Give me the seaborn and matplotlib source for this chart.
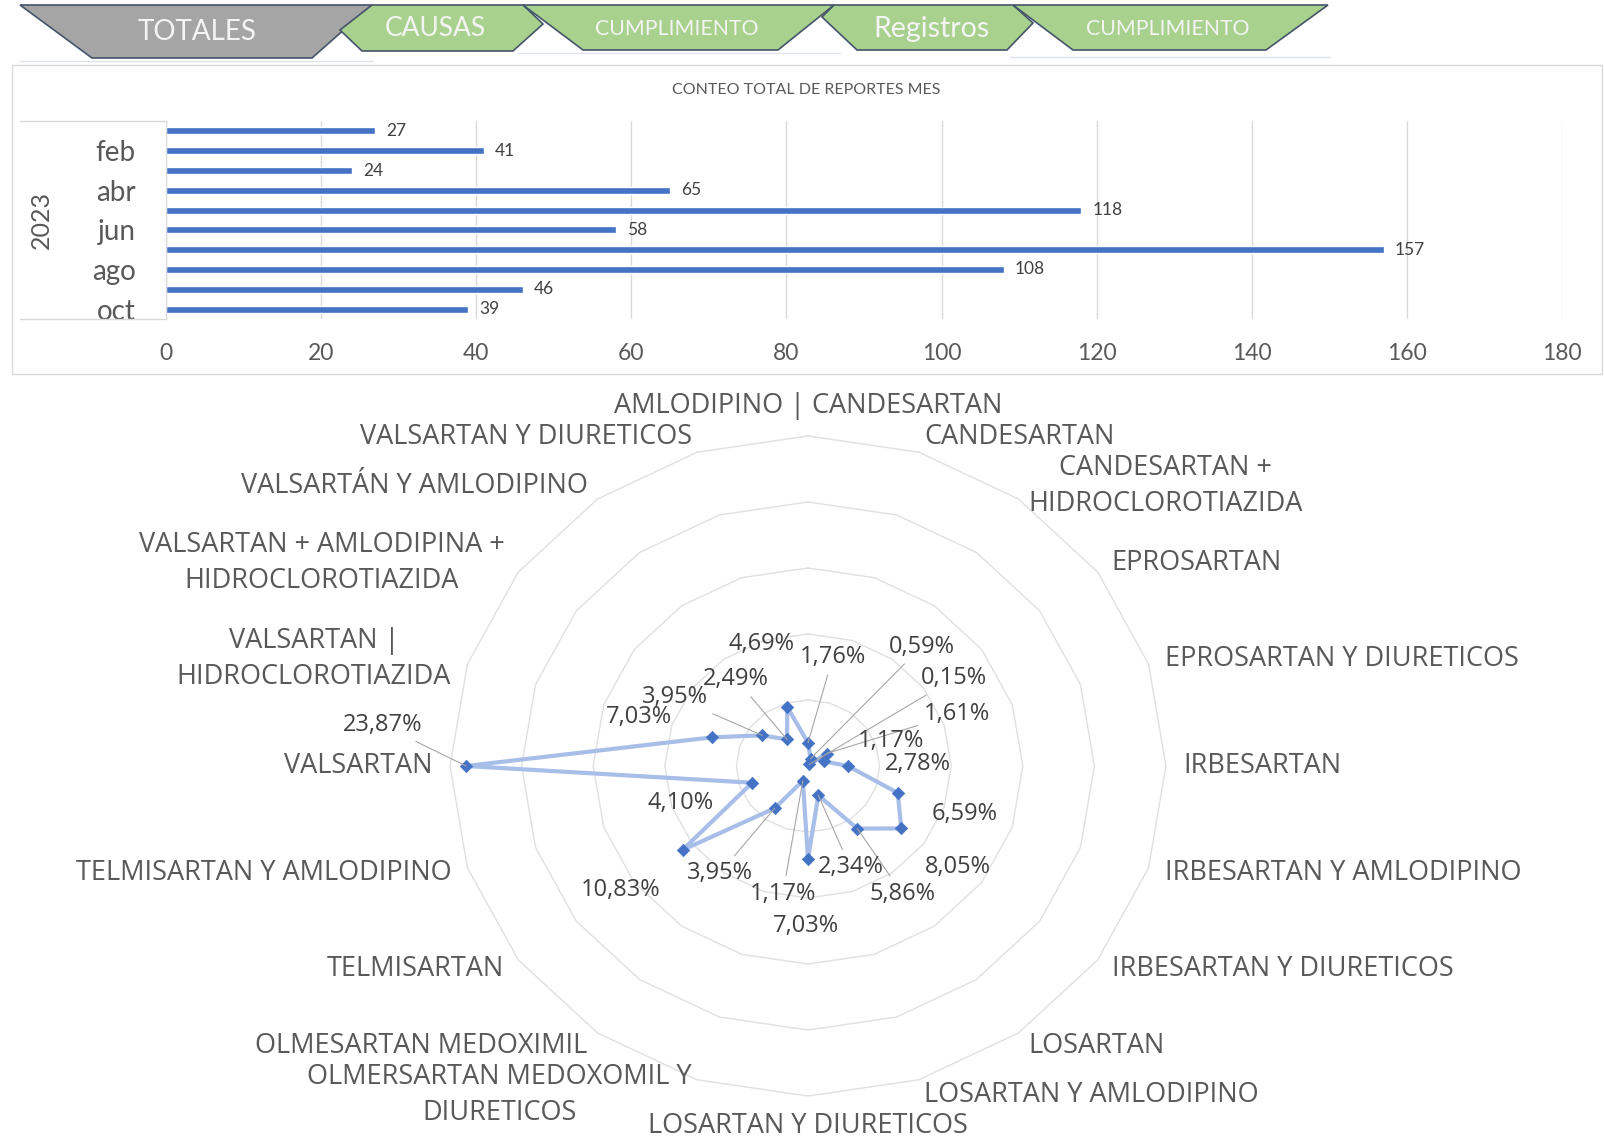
import numpy as np
import matplotlib
matplotlib.use('Agg')
import matplotlib.pyplot as plt
import seaborn as sns
from matplotlib.patches import Polygon, Rectangle
from matplotlib.lines import Line2D

W, H = 1604, 1144

# --- data ---
months = ['ene', 'feb', 'mar', 'abr', 'may', 'jun', 'jul', 'ago', 'sep', 'oct']
reportes = [27, 41, 24, 65, 118, 58, 157, 108, 46, 39]
year = '2023'
bar_title = 'CONTEO TOTAL DE REPORTES MES'

medicamentos = [
    'AMLODIPINO | CANDESARTAN', 'CANDESARTAN', 'CANDESARTAN +\nHIDROCLOROTIAZIDA',
    'EPROSARTAN', 'EPROSARTAN Y DIURETICOS', 'IRBESARTAN', 'IRBESARTAN Y AMLODIPINO',
    'IRBESARTAN Y DIURETICOS', 'LOSARTAN', 'LOSARTAN Y AMLODIPINO', 'LOSARTAN Y DIURETICOS',
    'OLMERSARTAN MEDOXOMIL Y\nDIURETICOS', 'OLMESARTAN MEDOXIMIL', 'TELMISARTAN',
    'TELMISARTAN Y AMLODIPINO', 'VALSARTAN', 'VALSARTAN |\nHIDROCLOROTIAZIDA',
    'VALSARTAN + AMLODIPINA +\nHIDROCLOROTIAZIDA', 'VALSARTÁN Y AMLODIPINO',
    'VALSARTAN Y DIURETICOS']
porcentajes = [1.76, 0.59, 0.15, 1.61, 1.17, 2.78, 6.59, 8.05, 5.86, 2.34,
               7.03, 1.17, 3.95, 10.83, 4.10, 23.87, 7.03, 3.95, 2.49, 4.69]

tabs = ['TOTALES', 'CAUSAS', 'CUMPLIMIENTO', 'Registros', 'CUMPLIMIENTO']

# --- styling / placement (pixels, top-left origin) ---
tab_shapes = [
    [(20, 5), (372, 5), (312, 58), (92, 58)],
    [(372, 5), (523, 5), (543, 24), (513, 51), (362, 51), (340, 30)],
    [(523, 5), (834, 5), (778, 50), (583, 50)],
    [(834, 5), (1013, 5), (1033, 23), (1007, 50), (857, 50), (822, 17)],
    [(1013, 5), (1328, 5), (1266, 50), (1073, 50)],
]
tab_colors = ['#a5a5a5', '#a9d18e', '#a9d18e', '#a9d18e', '#a9d18e']
tab_text_pos = [(197, 32), (435, 29), (677, 29), (931, 29), (1168, 29)]
tab_font = [20, 19, 15.3, 20.5, 15.3]

# label offsets from each point (dx, dy) in pixels, dy downwards, and leader flag
lab_off = [(25, -86), (111, -112), (145, -86), (130, -40), (67, -20), (70, -2),
           (67, 21), (57, 39), (45, 65), (32, 72), (-2, 67), (-20, 113),
           (-55, 65), (-62, 40), (-72, 20), (-84, -41), (-73, -20), (-87, -38),
           (-51, -60), (-26, -63)]
leader = [1, 1, 1, 1, 0, 0, 0, 0, 1, 1, 0, 1, 1, 0, 0, 1, 0, 1, 1, 0]


def fx(x):
    return x / W


def fy(y):
    return 1 - y / H


sns.set_style('white')
plt.rcParams['font.family'] = ['Lato', 'DejaVu Sans']

fig = plt.figure(figsize=(W / 100, H / 100), dpi=100)

# tabs across the top
for shape, col, name, pos, fs in zip(tab_shapes, tab_colors, tabs, tab_text_pos, tab_font):
    poly = Polygon([(fx(x), fy(y)) for x, y in shape], closed=True, transform=fig.transFigure,
                   facecolor=col, edgecolor='#44546a', lw=1.2)
    fig.add_artist(poly)
    fig.text(fx(pos[0]), fy(pos[1]), name, ha='center', va='center', fontsize=fs, color='#f4f4f4')
for x0, x1, y in [(20, 373, 61), (518, 840, 53), (1010, 1330, 57)]:
    fig.add_artist(Line2D([fx(x0), fx(x1)], [fy(y), fy(y)], transform=fig.transFigure,
                          color='#dfe3ea', lw=1))

# bar chart frame
fig.add_artist(Rectangle((fx(12), fy(374)), 1590 / W, 309 / H, transform=fig.transFigure,
                         fill=False, edgecolor='#d9d9d9', lw=1))
fig.text(fx(806), fy(90), bar_title, ha='center', va='center', fontsize=11.5, color='#595959')

# horizontal bar chart
ax = fig.add_axes([fx(166), fy(319), (1562 - 166) / W, (319 - 121) / H])
sns.barplot(x=reportes, y=months, orient='h', color='#4472c4', saturation=1,
            width=0.36, ax=ax)
ax.set_xlim(0, 180)
ax.set_ylim(9.5, -0.5)
ax.set_xticks(range(0, 181, 20))
ax.set_yticks(range(len(months)))
ax.set_yticklabels([m if i % 2 == 1 else '' for i, m in enumerate(months)])
ax.grid(axis='x', color='#d9d9d9', lw=1)
ax.grid(axis='y', visible=False)
ax.set_axisbelow(True)
ax.tick_params(axis='y', length=0, pad=22, labelsize=20, labelcolor='#595959')
ax.tick_params(axis='x', length=0, pad=17, labelsize=16.5, labelcolor='#595959')
for s in ['top', 'right', 'bottom']:
    ax.spines[s].set_visible(False)
ax.spines['left'].set_color('#d9d9d9')
ax.set_xlabel('')
ax.set_ylabel('')
ax.bar_label(ax.containers[0], padding=8, fontsize=12.5, color='#404040')

for y in [121, 319]:
    fig.add_artist(Line2D([fx(20), fx(166)], [fy(y), fy(y)], transform=fig.transFigure,
                          color='#d9d9d9', lw=1))
fig.text(fx(41), fy(220), year, rotation=90, ha='center', va='center', fontsize=18, color='#595959')

# radar chart
n = len(medicamentos)
theta = np.linspace(0, 2 * np.pi, n, endpoint=False)
theta_c = np.append(theta, theta[0] + 2 * np.pi)
vals_c = porcentajes + [porcentajes[0]]

ax2 = fig.add_axes([fx(450), fy(1096), (1166 - 450) / W, (1096 - 436) / H], projection='polar')
ax2.set_aspect('auto')
ax2.set_theta_zero_location('N')
ax2.set_theta_direction(-1)
ax2.patch.set_visible(False)
ax2.spines['polar'].set_visible(False)
ax2.grid(False)

for lvl in [5, 10, 15, 20, 25]:
    ax2.plot(theta_c, [lvl] * len(theta_c), color='#e0e0e0', lw=1, clip_on=False, zorder=1)

sns.lineplot(x=theta_c, y=vals_c, sort=False, estimator=None, color='#a7bee8', lw=3,
             ax=ax2, clip_on=False, zorder=2)
sns.scatterplot(x=theta, y=porcentajes, marker='D', s=40, color='#4472c4',
                edgecolor='#4472c4', ax=ax2, clip_on=False, zorder=3)
ax2.set_ylim(0, 25)
ax2.set_xticks([])
ax2.set_yticks([])
ax2.set_xlabel('')
ax2.set_ylabel('')

for ang, name in zip(theta, medicamentos):
    s, c = np.sin(ang), np.cos(ang)
    if s > 0.05:
        ha, va = 'left', 'center'
    elif s < -0.05:
        ha, va = 'right', 'center'
    else:
        ha, va = 'center', ('bottom' if c > 0 else 'top')
    ax2.text(ang, 26.2, name, ha=ha, va=va, fontsize=19.5, color='#595959',
             family=['Open Sans', 'DejaVu Sans'], multialignment='center', linespacing=1.38)

for ang, v, off, ld in zip(theta, porcentajes, lab_off, leader):
    txt = f'{v:.2f}%'.replace('.', ',')
    props = dict(arrowstyle='-', color='#a6a6a6', lw=0.8, shrinkA=2, shrinkB=0) if ld else None
    ax2.annotate(txt, xy=(ang, v), xytext=(off[0], -off[1]), textcoords='offset pixels',
                 ha='center', va='center', fontsize=17, color='#404040',
                 family=['Open Sans', 'DejaVu Sans'], arrowprops=props, zorder=4)

fig.savefig('out.png', dpi=100, facecolor='white')
